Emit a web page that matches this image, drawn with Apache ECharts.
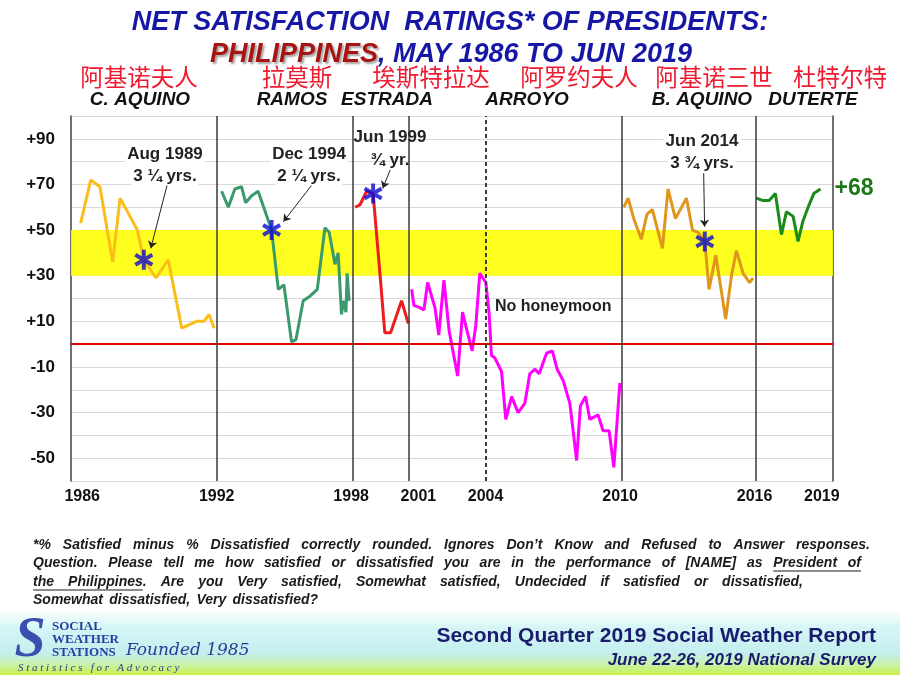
<!DOCTYPE html>
<html><head><meta charset="utf-8">
<script src="https://cdn.jsdelivr.net/npm/echarts@6/dist/echarts.min.js"></script>
<style>html,body{margin:0;padding:0;background:#fff}#c{width:900px;height:675px}</style>
</head><body><div id="c"></div><script>
// ---------- data ----------
const tickYears = ['1986','1992','1998','2001','2004','2010','2016','2019'];
const tickPos = [1986.5,1992.5,1998.5,2001.5,2004.5,2010.5,2016.5,2019.5];
const termBoundaries = [1992.5,1998.55,2001.08,2010.58,2016.57];
const secondTermStart = [2004.5];
const yTicks = [-50,-30,-10,10,30,50,70,90];
const bandRange = [30,50];

const presidentsZh = ['阿基诺夫人','拉莫斯','埃斯特拉达','阿罗约夫人','阿基诺三世','杜特尔特'];
const presidentsEn = ['C. AQUINO','RAMOS','ESTRADA','ARROYO','B. AQUINO','DUTERTE'];

const cAquinoX = [1986.43,1986.88,1987.29,1987.86,1988.19,1988.96,1989.25,1989.79,1990.34,1990.94,1991.6,1991.93,1992.16,1992.39];
const cAquinoY = [53,72,69,36,64,50,37,29,37,7,10,10,13,7];

const ramosX = [1992.72,1993.02,1993.31,1993.61,1993.79,1994.06,1994.35,1994.95,1995.25,1995.5,1995.84,1996.04,1996.36,1996.66,1996.99,1997.33,1997.52,1997.78,1997.92,1998.07,1998.15,1998.27,1998.32,1998.41];
const ramosY = [67,60,68,69,62,65,67,50,24,26,1,2,19,21,24,51,49,35,40,13,19,14,31,19];

const estradaX = [1998.68,1998.89,1999.19,1999.48,1999.81,2000.0,2000.26,2000.75,2001.05];
const estradaY = [60,61,67,66,28,5,5,19,9];

const arroyoX = [2001.2,2001.3,2001.57,2001.75,2001.91,2002.24,2002.41,2002.64,2002.87,2003.25,2003.47,2003.69,2003.9,2004.06,2004.24,2004.51,2004.66,2004.76,2004.91,2005.21,2005.4,2005.66,2005.95,2006.25,2006.47,2006.7,2006.89,2007.22,2007.48,2007.69,2007.96,2008.26,2008.56,2008.73,2008.96,2009.15,2009.52,2009.74,2010.01,2010.22,2010.49];
const arroyoY = [24,17,16,15,27,16,4,28,6,-14,14,5,-3,8,31,27,13,-5,-6,-12,-33,-23,-30,-26,-13,-11,-13,-4,-3,-11,-16,-26,-51,-27,-23,-33,-31,-38,-38,-54,-17];

const bAquinoX = [2010.67,2010.86,2011.11,2011.45,2011.7,2011.94,2012.39,2012.64,2012.97,2013.46,2013.73,2013.98,2014.28,2014.47,2014.77,2015.21,2015.47,2015.69,2015.99,2016.28,2016.43];
const bAquinoY = [60,64,55,46,57,59,42,68,55,64,50,49,45,24,39,11,30,41,31,27,29];

const duterteX = [2016.58,2016.85,2017.15,2017.43,2017.7,2017.92,2018.22,2018.44,2018.66,2018.89,2019.14,2019.44];
const duterteY = [64,63,63,66,48,58,56,45,54,60,66,68];

const starX = [1989.25,1994.95,1999.48,2014.28];
const starY = [37,50,66,45];
const starLines1 = ['Aug 1989','Dec 1994','Jun 1999','Jun 2014'];
const starLines2 = ['3 ¼ yrs.','2 ¼ yrs.','¾ yr.','3 ¾ yrs.'];
const arrowFromX = [1990.29,1996.75,2000.24,2014.23];
const arrowFromY = [69.8,69.8,76.3,74.9];
const arrowToX = [1989.56,1995.48,1999.91,2014.27];
const arrowToY = [42,53.7,68.3,51.5];

const noteLines = [
  '*% Satisfied minus % Dissatisfied correctly rounded. Ignores Don\u2019t Know and Refused to Answer responses.',
  'Question. Please tell me how satisfied or dissatisfied you are in the performance of [NAME] as President of',
  'the Philippines. Are you Very satisfied, Somewhat satisfied, Undecided if satisfied or dissatisfied,',
  'Somewhat dissatisfied, Very dissatisfied?'
];

// ---------- helpers ----------
const zip = (xs, ys) => xs.map((x, i) => [x, ys[i]]);
const SANS = '"Liberation Sans", Arial, sans-serif';
const starPath = 'path://M-2,-10L2,-10L2,10L-2,10Z M7.66,-6.73L9.66,-3.27L-7.66,6.73L-9.66,3.27Z M-9.66,-3.27L-7.66,-6.73L9.66,3.27L7.66,6.73Z';

function lineSeries(name, xs, ys, color, extra) {
  return Object.assign({
    name, type: 'line', data: zip(xs, ys), showSymbol: false, symbol: 'none',
    lineStyle: { color, width: 3 }, itemStyle: { color }, z: 3, animation: false
  }, extra || {});
}

const chart = echarts.init(document.getElementById('c'));

// ---------- graphic (texts) ----------
const g = [];
g.push({ type: 'text', x: 450, y: 23, style: { text: 'NET SATISFACTION  RATINGS* OF PRESIDENTS:', font: 'italic bold 27px ' + SANS, fill: '#1717a6', align: 'center', verticalAlign: 'middle' } });
g.push({ type: 'text', x: 451, y: 55, style: {
  text: '{a|PHILIPPINES}{b|, MAY 1986 TO JUN 2019}', align: 'center', verticalAlign: 'middle',
  rich: {
    a: { font: 'italic bold 27px ' + SANS, fill: '#a81414', textShadowColor: 'rgba(0,0,0,0.35)', textShadowOffsetX: 2, textShadowOffsetY: 2, textShadowBlur: 2 },
    b: { font: 'italic bold 27px ' + SANS, fill: '#1717a6' }
  } } });
const zhX = [139, 297, 431, 579, 714, 840];
const enX = [140, 292, 387, 527, 702, 813];
presidentsZh.forEach((t, i) => g.push({ type: 'text', x: zhX[i], y: 77, style: { text: t, font: '23.5px "Noto Sans CJK SC", sans-serif', fill: '#ee1b30', align: 'center', verticalAlign: 'middle' } }));
presidentsEn.forEach((t, i) => g.push({ type: 'text', x: enX[i], y: 100, style: { text: t, font: 'italic bold 19px ' + SANS, fill: '#111', align: 'center', verticalAlign: 'middle' } }));

// star annotations
const annX = [165, 309, 390, 702];
const annY1 = [154, 154, 137, 141];
const annY2 = [176, 176, 160, 163];
const annBox = [true, true, false, true];
starLines1.forEach((t, i) => {
  const bg = annBox[i] ? { backgroundColor: '#fff', padding: [1, 2] } : {};
  g.push({ type: 'text', z: 20, x: annX[i], y: annY1[i], style: Object.assign({ text: t, font: 'bold 17px ' + SANS, fill: '#222', align: 'center', verticalAlign: 'middle' }, bg) });
  g.push({ type: 'text', z: 20, x: annX[i], y: annY2[i], style: Object.assign({ text: starLines2[i], font: 'bold 17px ' + SANS, fill: '#222', align: 'center', verticalAlign: 'middle' }, bg) });
});
g.push({ type: 'text', z: 20, x: 495, y: 307, style: { text: 'No honeymoon', font: 'bold 16px ' + SANS, fill: '#222', align: 'left', verticalAlign: 'middle' } });

// footnote with justification
const noteFont = 'italic bold 14px ' + SANS;
const ctx = document.createElement('canvas').getContext('2d');
ctx.font = noteFont;
const noteY = [545, 563, 582, 600];
const noteRight = [870, 861, 803, null];
noteLines.forEach((line, li) => {
  const words = line.split(' ');
  const ws = words.map(w => ctx.measureText(w).width);
  const sum = ws.reduce((a, b) => a + b, 0);
  const left = 33;
  let gap = ctx.measureText(' ').width * 1.6;
  if (noteRight[li]) gap = (noteRight[li] - left - sum) / (words.length - 1);
  let x = left;
  let ulStart = null, ulEnd = null;
  words.forEach((w, wi) => {
    g.push({ type: 'text', x, y: noteY[li], style: { text: w, font: noteFont, fill: '#1a1a1a', align: 'left', verticalAlign: 'middle' } });
    const isUL = (li === 1 && wi >= words.length - 2) || (li === 2 && wi < 2);
    if (isUL) { if (ulStart === null) ulStart = x; ulEnd = x + ws[wi] - (w.endsWith('.') ? ctx.measureText('.').width : 0); }
    x += ws[wi] + gap;
  });
  if (ulStart !== null) g.push({ type: 'line', shape: { x1: ulStart, y1: noteY[li] + 8, x2: ulEnd, y2: noteY[li] + 8 }, style: { stroke: '#1a1a1a', lineWidth: 1.2 } });
});

// footer band
g.push({ type: 'rect', z: -10, shape: { x: 0, y: 612, width: 900, height: 63 }, style: { fill: new echarts.graphic.LinearGradient(0, 0, 0, 1, [
  { offset: 0, color: '#f7fefe' }, { offset: 0.25, color: '#d6f6f6' }, { offset: 0.65, color: '#c4eeee' }, { offset: 0.82, color: '#c9f2b0' }, { offset: 1, color: '#c8f04a' }]) } });
g.push({ type: 'text', x: 876, y: 636, style: { text: 'Second Quarter 2019 Social Weather Report', font: 'bold 21px ' + SANS, fill: '#1b1b6e', align: 'right', verticalAlign: 'middle' } });
g.push({ type: 'text', x: 876, y: 660, style: { text: 'June 22-26, 2019 National Survey', font: 'italic bold 17px ' + SANS, fill: '#1b1b6e', align: 'right', verticalAlign: 'middle' } });
// logo
g.push({ type: 'text', x: 30, y: 642, style: { text: 'S', font: 'italic bold 56px "Liberation Serif", serif', fill: '#3a4fb0', align: 'center', verticalAlign: 'middle' } });
['SOCIAL', 'WEATHER', 'STATIONS'].forEach((t, i) => g.push({ type: 'text', x: 52, y: 627 + i * 13, style: { text: t, font: 'bold 13px "Liberation Serif", serif', fill: '#2340a0', align: 'left', verticalAlign: 'middle' } }));
g.push({ type: 'text', x: 126, y: 651, style: { text: 'Founded 1985', font: 'italic 17px "DejaVu Serif", serif', fill: '#2a3c96', align: 'left', verticalAlign: 'middle' } });
g.push({ type: 'text', x: 18, y: 668, style: { text: 'S t a t i s t i c s   f o r   A d v o c a c y', font: 'italic 11px "Liberation Serif", serif', fill: '#2a3c96', align: 'left', verticalAlign: 'middle' } });

// ---------- option ----------
const option = {
  backgroundColor: '#ffffff',
  animation: false,
  grid: { left: 71, right: 67, top: 116, bottom: 194, containLabel: false },
  xAxis: {
    type: 'value', min: 1986, max: 2020, interval: 0.5,
    axisLine: { show: true, lineStyle: { color: '#404040', width: 1.5 } },
    axisTick: { show: false }, splitLine: { show: false },
    axisLabel: { margin: 8, fontFamily: SANS, fontWeight: 'bold', fontSize: 16, color: '#111',
      formatter: v => { const i = tickPos.findIndex(p => Math.abs(p - v) < 1e-6); return i >= 0 ? tickYears[i] : ''; } }
  },
  yAxis: [{
    type: 'value', min: -60, max: 100, interval: 10,
    axisLine: { show: true, lineStyle: { color: '#404040', width: 1.5 } },
    axisTick: { show: false },
    splitLine: { show: true, lineStyle: { color: '#d9d9d9', width: 1 } },
    axisLabel: { margin: 16, fontFamily: SANS, fontWeight: 'bold', fontSize: 17, color: '#111',
      formatter: v => yTicks.includes(v) ? (v > 0 ? '+' + v : String(v)) : '' }
  }, {
    type: 'value', min: -60, max: 100, interval: 10, position: 'right',
    axisLine: { show: true, lineStyle: { color: '#404040', width: 1.5 } },
    axisTick: { show: false }, splitLine: { show: false }, axisLabel: { show: false }
  }],
  series: [
    {
      name: 'markers', type: 'line', data: [], z: 1, silent: true,
      markArea: { silent: true, itemStyle: { color: 'rgba(255,255,0,0.88)' }, data: [[{ yAxis: bandRange[0] }, { yAxis: bandRange[1] }]] },
      markLine: { silent: true, symbol: ['none', 'none'], label: { show: false },
        data: [
          { yAxis: 0, lineStyle: { color: '#e00000', width: 2, type: 'solid' } },
          ...termBoundaries.map(x => ({ xAxis: x, lineStyle: { color: '#3a3a3a', width: 1.5, type: 'solid' } })),
          ...secondTermStart.map(x => ({ xAxis: x, lineStyle: { color: '#3a3a3a', width: 2, type: [4, 3] } }))
        ] }
    },
    lineSeries('C. Aquino', cAquinoX, cAquinoY, '#fbbd19'),
    lineSeries('Ramos', ramosX, ramosY, '#3a9a6c'),
    lineSeries('Estrada', estradaX, estradaY, '#ee1c1c'),
    lineSeries('Arroyo', arroyoX, arroyoY, '#ff00ff'),
    lineSeries('B. Aquino', bAquinoX, bAquinoY, '#e0961e'),
    lineSeries('Duterte', duterteX, duterteY, '#1a8a1a', {
      endLabel: { show: true, distance: 14, formatter: p => '+' + p.value[1], color: '#1a7a1a', fontFamily: SANS, fontWeight: 'bold', fontSize: 23 }
    }),
    {
      name: 'stars', type: 'scatter', data: zip(starX, starY), symbol: starPath, symbolSize: [19, 20], z: 5,
      itemStyle: { color: '#0a0ad2' }, silent: true,
      markLine: { silent: true, symbol: ['none', 'arrow'], symbolSize: 7, label: { show: false },
        lineStyle: { color: '#222', width: 1, type: 'solid' },
        data: arrowFromX.map((x, i) => [{ coord: [x, arrowFromY[i]] }, { coord: [arrowToX[i], arrowToY[i]] }]) }
    }
  ],
  graphic: g
};
chart.setOption(option);
</script></body></html>
